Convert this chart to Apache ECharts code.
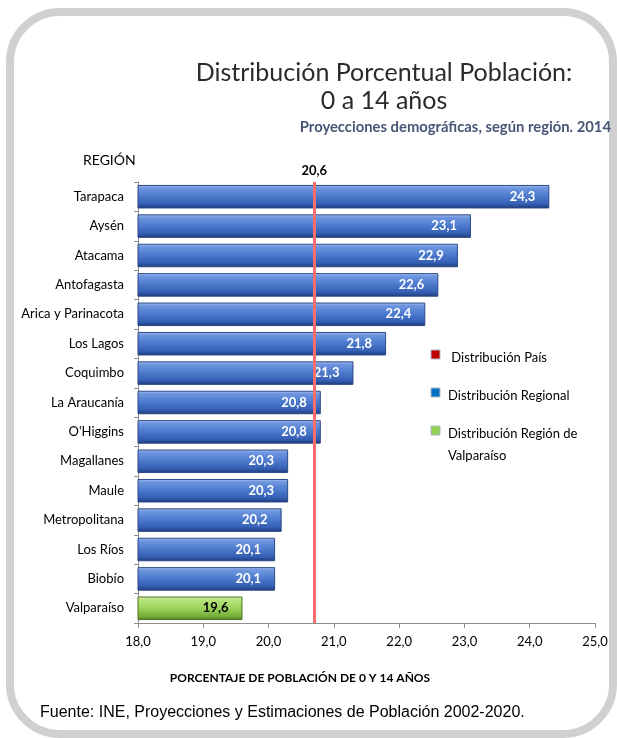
<!DOCTYPE html>
<html>
<head>
<meta charset="utf-8">
<script src="https://cdn.jsdelivr.net/npm/echarts@6/dist/echarts.min.js"></script>
<style>
  html, body { margin: 0; padding: 0; background: #fff; }
  #main { width: 617px; height: 738px; }
</style>
</head>
<body>
<div id="main"></div>
<script>
// datos
const regiones = ['Tarapaca', 'Aysén', 'Atacama', 'Antofagasta', 'Arica y Parinacota', 'Los Lagos', 'Coquimbo',
  'La Araucanía', "O'Higgins", 'Magallanes', 'Maule', 'Metropolitana', 'Los Ríos', 'Biobío', 'Valparaíso']
const valores = [24.3, 23.1, 22.9, 22.6, 22.4, 21.8, 21.3, 20.8, 20.8, 20.3, 20.3, 20.2, 20.1, 20.1, 19.6]
const regionDestacada = 'Valparaíso'
const paisLinea = 20.7 // donde esta dibujada la linea roja
const paisTexto = '20,6'
const ejeTicks = [18, 25, 1]
const leyendaNombres = [' Distribución País', 'Distribución Regional', 'Distribución Región de\nValparaíso']
const leyendaColores = ['#c00000', '#0070c0', '#92d050']

const coma = v => v.toFixed(1).replace('.', ',')

const regional = regiones.map((r, i) => (r === regionDestacada ? null : valores[i]))
const destacada = regiones.map((r, i) => (r === regionDestacada ? valores[i] : null))

const azul = new echarts.graphic.LinearGradient(0, 0, 0, 1, [
  { offset: 0, color: '#b3caf2' },
  { offset: 0.12, color: '#7097e0' },
  { offset: 0.45, color: '#4f7ccf' },
  { offset: 0.8, color: '#3560b5' },
  { offset: 1, color: '#1d3a7a' }
])
const verde = new echarts.graphic.LinearGradient(0, 0, 0, 1, [
  { offset: 0, color: '#e4f7c2' },
  { offset: 0.12, color: '#b8e47e' },
  { offset: 0.5, color: '#9bd35a' },
  { offset: 0.85, color: '#76ab38' },
  { offset: 1, color: '#4d7620' }
])

const fuente = 'Lato, "Noto Sans", sans-serif'

const leyenda = []
leyendaNombres.forEach((n, i) => {
  const y = 355 + i * 38
  leyenda.push({
    type: 'rect', shape: { x: 431, y: y - 5, width: 9, height: 9 },
    style: { fill: leyendaColores[i], stroke: '#b0b8c8', lineWidth: 1 }
  })
  leyenda.push({
    type: 'text', x: 448, y: y - 8,
    style: { text: n, font: '13px ' + fuente, fill: '#000', lineHeight: 22 }
  })
})

const chart = echarts.init(document.getElementById('main'))
const option = {
  backgroundColor: '#fff',
  animation: false,
  grid: { left: 138, right: 22, top: 182, bottom: 115 },
  xAxis: {
    type: 'value',
    min: ejeTicks[0],
    max: ejeTicks[1],
    interval: ejeTicks[2],
    axisLine: { show: true, lineStyle: { color: '#8c8c8c' } },
    axisTick: { show: true, length: 5, lineStyle: { color: '#8c8c8c' } },
    splitLine: { show: false },
    axisLabel: { formatter: coma, color: '#000', fontSize: 13, fontFamily: fuente, margin: 12 }
  },
  yAxis: {
    type: 'category',
    inverse: true,
    data: regiones,
    axisLine: { show: true, lineStyle: { color: '#8c8c8c' } },
    axisTick: { show: true, length: 4, lineStyle: { color: '#8c8c8c' } },
    axisLabel: { color: '#000', fontSize: 13, fontFamily: fuente, margin: 14 }
  },
  series: [
    {
      name: 'Distribución Regional',
      type: 'bar',
      data: regional,
      barCategoryGap: '20%',
      barGap: '-100%',
      itemStyle: { color: azul, borderColor: '#2a4785', borderWidth: 1 },
      label: {
        show: true, position: 'insideRight', distance: 14,
        formatter: p => coma(p.value),
        color: '#fff', fontWeight: 'bold', fontSize: 13, fontFamily: fuente
      },
      markLine: {
        silent: true,
        symbol: 'none',
        data: [{ xAxis: paisLinea }],
        lineStyle: { color: '#f56e6e', width: 3, type: 'solid' },
        label: {
          show: true, position: 'start', formatter: paisTexto, distance: 5,
          color: '#000', fontWeight: 'bold', fontSize: 13, fontFamily: fuente
        }
      }
    },
    {
      name: 'Distribución Región de Valparaíso',
      type: 'bar',
      data: destacada,
      barCategoryGap: '20%',
      barGap: '-100%',
      itemStyle: { color: verde, borderColor: '#4f6f25', borderWidth: 1 },
      label: {
        show: true, position: 'insideRight', distance: 14,
        formatter: p => coma(p.value),
        color: '#000', fontWeight: 'bold', fontSize: 13, fontFamily: fuente
      }
    }
  ],
  graphic: [
    {
      type: 'rect', shape: { x: 10, y: 12, width: 603, height: 722, r: 50 },
      style: { fill: 'none', stroke: '#d0d0d0', lineWidth: 8 }, z: -1
    },
    {
      type: 'text', x: 384, y: 73,
      style: { text: 'Distribución Porcentual Población:', font: '25px ' + fuente, fill: '#2b2b2b', align: 'center', verticalAlign: 'middle' }
    },
    {
      type: 'text', x: 384, y: 101,
      style: { text: '0 a 14 años', font: '25px ' + fuente, fill: '#2b2b2b', align: 'center', verticalAlign: 'middle' }
    },
    {
      type: 'text', x: 611, y: 127,
      style: { text: 'Proyecciones demográficas, según región. 2014', font: 'bold 14.8px ' + fuente, fill: '#475676', align: 'right', verticalAlign: 'middle' }
    },
    {
      type: 'text', x: 83, y: 160,
      style: { text: 'REGIÓN', font: '14px ' + fuente, fill: '#000', verticalAlign: 'middle' }
    },
    {
      type: 'text', x: 300, y: 678,
      style: { text: 'PORCENTAJE DE POBLACIÓN DE 0 Y 14 AÑOS', font: 'bold 12px ' + fuente, fill: '#000', align: 'center', verticalAlign: 'middle' }
    },
    {
      type: 'text', x: 40, y: 713,
      style: { text: 'Fuente: INE, Proyecciones y Estimaciones de Población 2002-2020.', font: '16px "Liberation Sans", Arial, sans-serif', fill: '#000', verticalAlign: 'middle' }
    }
  ].concat(leyenda)
}
chart.setOption(option)
</script>
</body>
</html>
